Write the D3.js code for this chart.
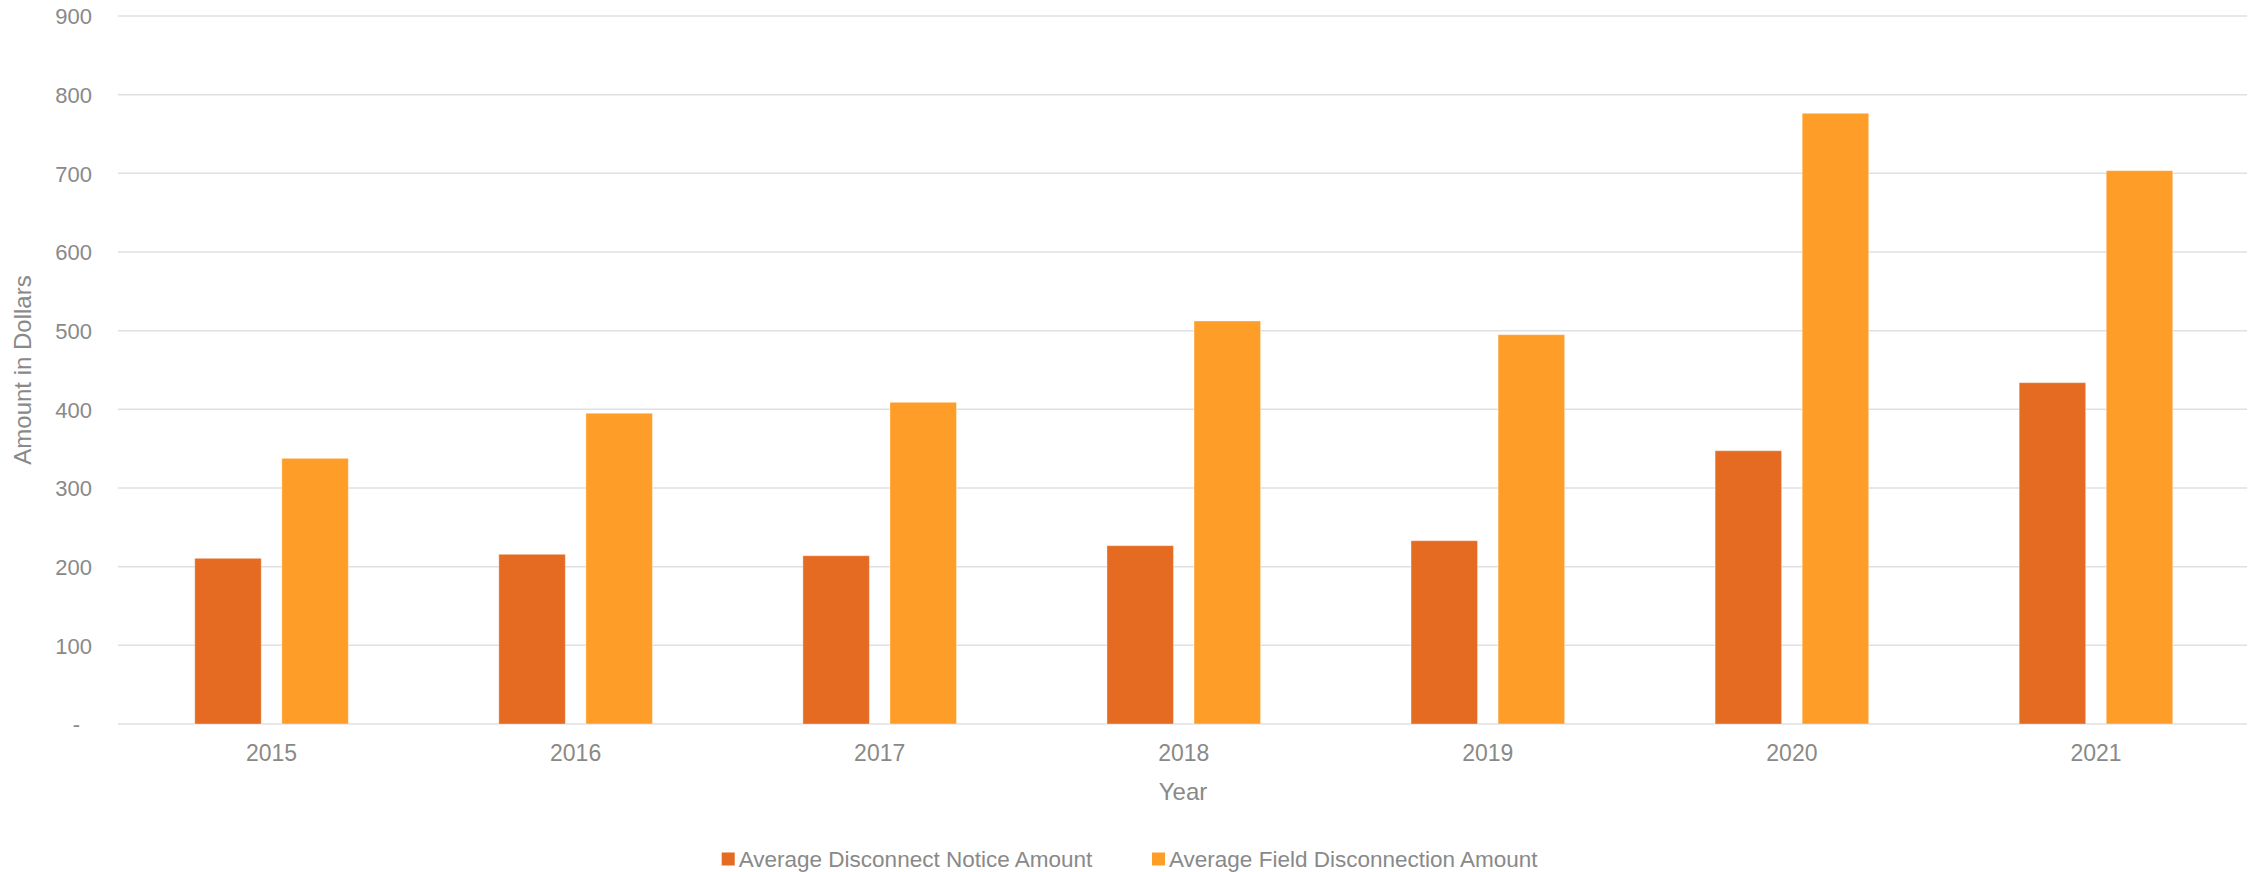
<!DOCTYPE html>
<html>
<head>
<meta charset="utf-8">
<script src="https://cdn.jsdelivr.net/npm/d3@7"></script>
<style>
  html, body { margin: 0; padding: 0; background: #fff; }
  svg { display: block; }
  text { font-family: "Liberation Sans", Arial, sans-serif; fill: #898989; }
</style>
</head>
<body>
<svg id="chart" width="2264" height="872"></svg>
<script>
// ---- data ----
const years = ["2015", "2016", "2017", "2018", "2019", "2020", "2021"];
const seriesNames = ["Average Disconnect Notice Amount", "Average Field Disconnection Amount"];
const noticeAmounts = [210.6, 215.7, 213.9, 226.7, 233.0, 347.4, 433.9];
const fieldAmounts = [337.7, 395.0, 408.9, 512.3, 494.9, 776.3, 703.4];
const yTicks = [0, 100, 200, 300, 400, 500, 600, 700, 800, 900];
const yTickLabels = ["-", "100", "200", "300", "400", "500", "600", "700", "800", "900"];
const seriesColors = ["#E46B21", "#FE9D27"];
const xTitle = "Year";
const yTitle = "Amount in Dollars";

// ---- layout ----
const W = 2264, H = 872;
const plot = { left: 119.5, right: 2248, top: 16, bottom: 724 };
const svg = d3.select("#chart");

const x0 = d3.scaleBand().domain(years).range([plot.left, plot.right]).paddingInner(0).paddingOuter(0);
const bw = x0.bandwidth();
const x1 = d3.scaleBand().domain(seriesNames).range([bw * 0.2475, bw * 0.7525]).paddingInner(0.2365).paddingOuter(0);
const y = d3.scaleLinear().domain([0, 900]).range([plot.bottom, plot.top]);

// gridlines
svg.append("g").selectAll("line").data(yTicks).join("line")
  .attr("x1", 118).attr("x2", 2247)
  .attr("y1", d => y(d)).attr("y2", d => y(d))
  .attr("stroke", "#e0e0e0").attr("stroke-width", 1.5);

// y axis labels
const yAxis = d3.axisLeft(y).tickValues(yTicks).tickSize(0).tickPadding(0)
  .tickFormat((d, i) => yTickLabels[i]);
const yg = svg.append("g").attr("transform", `translate(${92},0)`).call(yAxis);
yg.select(".domain").remove();
yg.selectAll("text").attr("font-size", 22).attr("fill", "#898989")
  .attr("font-family", "Liberation Sans, Arial, sans-serif")
  .attr("dy", "0.35em")
  .attr("x", d => d === 0 ? -12 : 0);

// x axis labels
const xAxis = d3.axisBottom(x0).tickSize(0).tickPadding(0);
const xg = svg.append("g").attr("transform", `translate(0,${plot.bottom})`).call(xAxis);
xg.select(".domain").remove();
xg.selectAll("text").attr("font-size", 23).attr("fill", "#898989")
  .attr("font-family", "Liberation Sans, Arial, sans-serif")
  .attr("dy", null).attr("y", 37);

// bars
const rows = years.map((yr, i) => ({ year: yr, values: [noticeAmounts[i], fieldAmounts[i]] }));
const groups = svg.append("g").selectAll("g").data(rows).join("g")
  .attr("transform", d => `translate(${x0(d.year)},0)`);
groups.selectAll("rect").data(d => d.values.map((v, k) => ({ key: seriesNames[k], v, k })))
  .join("rect")
  .attr("x", d => x1(d.key))
  .attr("width", x1.bandwidth())
  .attr("y", d => y(d.v))
  .attr("height", d => y(0) - y(d.v))
  .attr("fill", d => seriesColors[d.k])
  .attr("stroke", "#ffffff").attr("stroke-opacity", 0.35).attr("stroke-width", 1);

// axis titles
svg.append("text").attr("x", 1183).attr("y", 800)
  .attr("text-anchor", "middle").attr("font-size", 24).text(xTitle);
svg.append("text").attr("transform", `translate(31,${(plot.top + plot.bottom) / 2}) rotate(-90)`)
  .attr("text-anchor", "middle").attr("font-size", 24).text(yTitle);

// legend
const legend = svg.append("g");
const items = legend.selectAll("g").data(seriesNames).join("g");
items.append("rect").attr("width", 13).attr("height", 13).attr("y", -6.5)
  .attr("fill", (d, i) => seriesColors[i]);
items.append("text").attr("x", 17).attr("dy", "0.35em").attr("font-size", 22.5).text(d => d);
let cx = 0;
const widths = [];
items.each(function () { widths.push(this.getBBox().width); });
const gap = 59;
const total = d3.sum(widths) + gap * (widths.length - 1);
items.attr("transform", (d, i) => {
  const off = cx; cx += widths[i] + gap; return `translate(${off},0)`;
});
legend.attr("transform", `translate(${1130 - total / 2},859)`);
</script>
</body>
</html>
